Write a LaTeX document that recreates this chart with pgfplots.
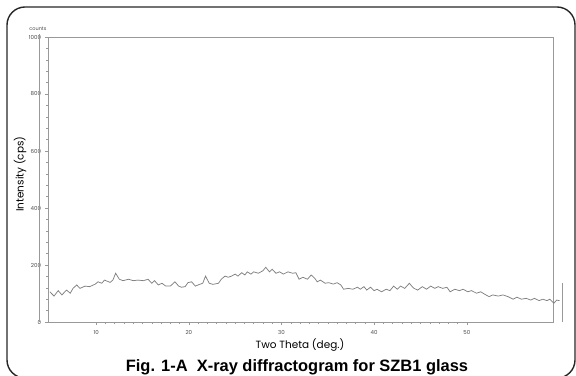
\documentclass[border=0pt]{standalone}
\usepackage{pgfplots}
\pgfplotsset{compat=1.18}
\usepackage{fontspec}
\setmainfont{Liberation Sans}
\newfontfamily\geo{Poppins}
\definecolor{axgray}{gray}{0.6}
\definecolor{linegray}{gray}{0.5}
\begin{document}
\begin{tikzpicture}
\path[use as bounding box] (0bp,0bp) rectangle (576bp,376bp);
\clip (0bp,0bp) rectangle (576bp,376bp);
\draw[line width=1.4bp, black!85, rounded corners=18bp] (7bp,-2bp) rectangle (575bp,369bp);
\begin{axis}[
  at={(48bp,54bp)}, anchor=south west,
  scale only axis, width=505bp, height=285bp,
  xmin=4.8, xmax=59.3, ymin=0, ymax=1000,
  clip=false,
  axis line style={axgray, line width=0.6bp},
  xtick={10,20,30,40,50}, minor x tick num=9,
  ytick={0,200,400,600,800,1000}, minor y tick num=4,
  xtick pos=bottom, ytick pos=left,
  tick align=outside,
  major tick length=3bp, minor tick length=1.8bp,
  every tick/.style={axgray, line width=0.5bp},
  ticklabel style={font=\geo\fontsize{5.5}{6}\selectfont, text=black!70},
  /pgf/number format/assume math mode=true,
  /pgf/number format/set thousands separator={},
  xticklabel style={yshift=-2bp},
  yticklabel style={xshift=-0.5bp},
]
\addplot[linegray, line width=0.75bp] coordinates {
(5.0,106) (5.45,91) (5.9,110) (6.3,95) (6.8,112) (7.2,101) (7.5,118) (7.9,130) (8.25,118) (8.8,126)
(9.3,124) (9.9,133) (10.2,141) (10.6,136) (10.9,147) (11.5,139) (11.8,147) (12.1,171) (12.5,150) (12.9,145)
(13.5,150) (14.0,145) (14.5,147) (15.1,145) (15.6,150) (16.0,136) (16.3,145) (16.7,130) (17.1,136) (17.5,126)
(18.0,126) (18.5,141) (18.9,126) (19.2,122) (19.6,124) (19.9,138) (20.3,141) (20.7,126) (21.0,130) (21.5,136)
(21.8,161) (22.2,136) (22.6,132) (23.2,136) (23.5,150) (23.9,161) (24.25,157) (24.6,161) (25.0,168) (25.3,161)
(25.7,173) (26.05,165) (26.3,176) (26.7,168) (27.0,176) (27.5,171) (28.0,180) (28.3,192) (28.7,176) (29.0,185)
(29.4,171) (29.8,176) (30.2,168) (30.7,176) (31.2,171) (31.55,173) (31.9,150) (32.3,157) (32.8,150) (33.2,165)
(33.6,153) (33.85,141) (34.2,147) (34.7,136) (35.1,138) (35.6,133) (36.0,138) (36.4,130) (36.7,115) (37.2,118)
(37.7,115) (38.2,122) (38.5,115) (38.9,124) (39.2,112) (39.6,122) (40.0,110) (40.3,115) (40.8,106) (41.3,115)
(41.7,110) (42.1,126) (42.5,115) (42.85,126) (43.3,118) (43.8,136) (44.1,124) (44.3,118) (44.7,112) (45.2,124)
(45.65,115) (46.1,126) (46.55,118) (46.9,124) (47.4,118) (47.85,122) (48.2,106) (48.7,115) (49.2,110) (49.6,115)
(50.1,106) (50.5,110) (51.05,101) (51.5,106) (51.9,98) (52.4,89) (52.8,95) (53.4,91) (53.9,95) (54.45,89)
(55.0,80) (55.4,87) (55.9,80) (56.4,83) (56.9,77) (57.3,83) (57.8,75) (58.2,80) (58.65,75) (58.95,80)
(59.4,66) (59.7,77) (60.0,75)
};
\addplot[axgray, line width=0.6bp] coordinates {(60.35,0) (60.35,137)};
\addplot[axgray, line width=0.6bp] coordinates {(3.85,0) (3.85,1012)};
\node[font=\geo\fontsize{5}{6}\selectfont, text=black!70] at (rel axis cs:-0.02,1.03) {counts};
\end{axis}
\node[font=\geo\fontsize{10.5}{12}\selectfont, anchor=center] at (300bp,31bp) {Two Theta (deg.)};
\node[font=\geo\fontsize{10.5}{12}\selectfont, anchor=center, rotate=90] at (20bp,202bp) {Intensity (cps)};
\node[font=\bfseries\fontsize{16.5}{18}\selectfont, anchor=base] at (297bp,4.2bp) {Fig. 1-A\ \ X-ray diffractogram for SZB1 glass};
\end{tikzpicture}
\end{document}
